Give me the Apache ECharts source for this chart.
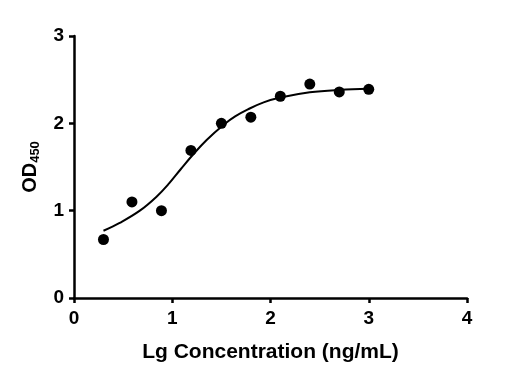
<!DOCTYPE html>
<html>
<head>
<meta charset="utf-8">
<script src="https://cdn.jsdelivr.net/npm/echarts@6/dist/echarts.min.js"></script>
<style>html,body{margin:0;padding:0;background:#fff}#c{width:529px;height:380px}</style>
</head>
<body>
<div id="c"></div>
<script>
var pointX = [0.30, 0.59, 0.89, 1.19, 1.50, 1.80, 2.10, 2.40, 2.70, 3.00];
var pointY = [0.67, 1.10, 1.00, 1.69, 2.00, 2.07, 2.31, 2.45, 2.36, 2.39];
var curveX = [0.30, 0.465, 0.67, 0.84, 0.97, 1.09, 1.21, 1.35, 1.53, 1.64, 1.77, 1.93, 2.10, 2.40, 2.70, 3.00];
var curveY = [0.77, 0.86, 1.00, 1.16, 1.315, 1.48, 1.64, 1.81, 1.99, 2.08, 2.16, 2.24, 2.295, 2.355, 2.383, 2.395];
var xTicks = [0, 1, 2, 3, 4];
var yTicks = [0, 1, 2, 3];

var FONT = '"Liberation Sans", Arial, sans-serif';
var chart = echarts.init(document.getElementById('c'));
chart.setOption({
  animation: false,
  grid: { left: 74, right: 62, top: 36, bottom: 82 },
  xAxis: {
    type: 'value', min: xTicks[0], max: xTicks[xTicks.length-1], interval: 1,
    name: 'Lg Concentration (ng/mL)', nameLocation: 'middle', nameGap: 44,
    nameTextStyle: { color: '#000', fontFamily: FONT, fontWeight: 'bold', fontSize: 21 },
    axisLine: { lineStyle: { color: '#000', width: 2.5 } },
    axisTick: { length: 5, lineStyle: { color: '#000', width: 2.5 } },
    axisLabel: { color: '#000', fontFamily: FONT, fontWeight: 'bold', fontSize: 19, margin: 11 },
    splitLine: { show: false }
  },
  yAxis: {
    type: 'value', min: yTicks[0], max: yTicks[yTicks.length-1], interval: 1,
    name: '{a|OD}{b|450}', nameLocation: 'middle', nameGap: 32,
    nameTextStyle: {
      color: '#000', fontFamily: FONT, fontWeight: 'bold', fontSize: 20,
      rich: {
        a: { color: '#000', fontFamily: FONT, fontWeight: 'bold', fontSize: 20, lineHeight: 24 },
        b: { color: '#000', fontFamily: FONT, fontWeight: 'bold', fontSize: 13, lineHeight: 24, verticalAlign: 'bottom', padding: [7, 0, 0, 0] }
      }
    },
    axisLine: { show: true, lineStyle: { color: '#000', width: 2.5 } },
    axisTick: { show: true, length: 5, lineStyle: { color: '#000', width: 2.5 } },
    axisLabel: { color: '#000', fontFamily: FONT, fontWeight: 'bold', fontSize: 19, margin: 10 },
    splitLine: { show: false }
  },
  series: [
    {
      type: 'line', smooth: 0.4, symbol: 'none',
      data: curveX.map(function (x, i) { return [x, curveY[i]]; }),
      lineStyle: { color: '#000', width: 2 }
    },
    {
      type: 'scatter', symbol: 'circle', symbolSize: 11,
      data: pointX.map(function (x, i) { return [x, pointY[i]]; }),
      itemStyle: { color: '#000', opacity: 1 }
    }
  ]
});
</script>
</body>
</html>
